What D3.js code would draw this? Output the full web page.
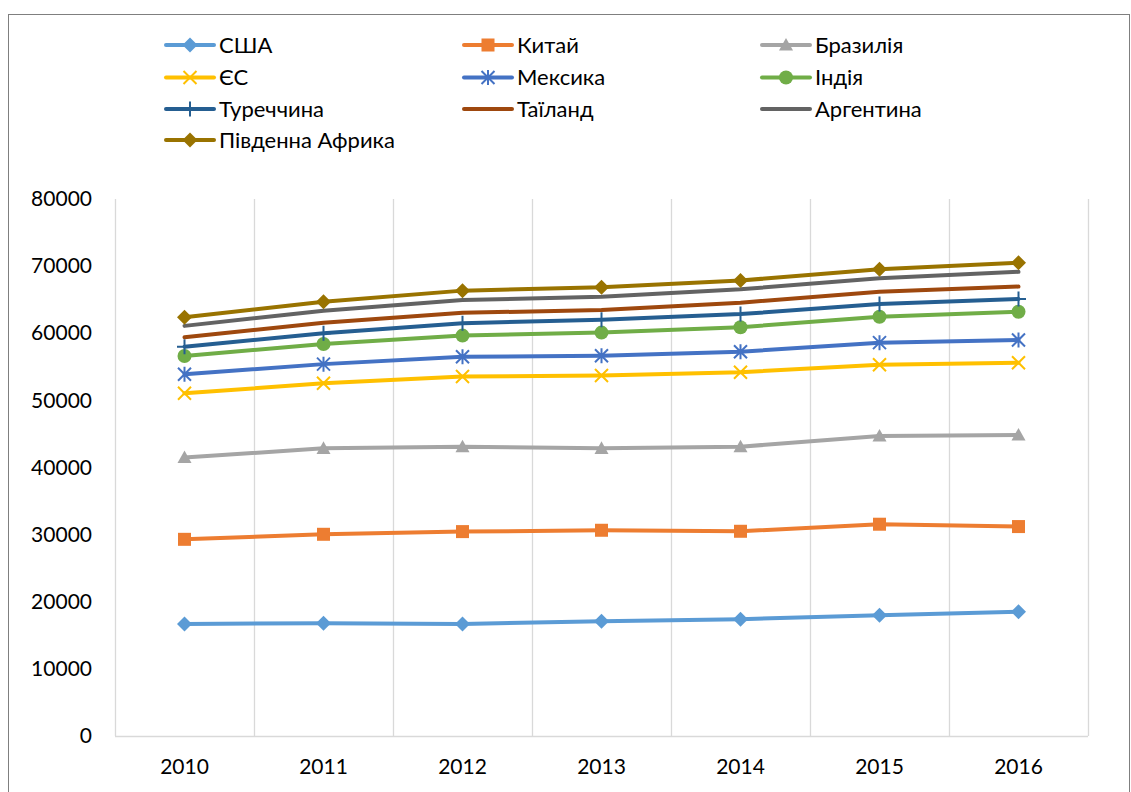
<!DOCTYPE html>
<html>
<head>
<meta charset="utf-8">
<script src="https://cdn.jsdelivr.net/npm/d3@7"></script>
<style>
  html, body { margin: 0; padding: 0; background: #fff; }
  svg text { font-family: Lato, "Open Sans", sans-serif; fill: #000; }
</style>
</head>
<body>
<svg id="chart" width="1131" height="792"></svg>
<script>
// ---- data ----
const years = ["2010", "2011", "2012", "2013", "2014", "2015", "2016"];
const yTicks = [0, 10000, 20000, 30000, 40000, 50000, 60000, 70000, 80000];
const seriesNames = ["США", "Китай", "Бразилія", "ЄС", "Мексика", "Індія", "Туреччина", "Таїланд", "Аргентина", "Південна Африка"];
const usa       = [16700, 16800, 16700, 17100, 17400, 18000, 18500];
const china     = [29300, 30050, 30450, 30650, 30500, 31550, 31200];
const brazil    = [41500, 42850, 43100, 42850, 43100, 44700, 44850];
const eu        = [51050, 52550, 53550, 53700, 54200, 55300, 55600];
const mexico    = [53900, 55400, 56500, 56650, 57250, 58600, 59000];
const india     = [56600, 58400, 59650, 60100, 60900, 62450, 63200];
const turkey    = [58000, 60000, 61500, 62000, 62850, 64350, 65100];
const thailand  = [59400, 61550, 63050, 63450, 64550, 66200, 66950];
const argentina = [61100, 63350, 64950, 65450, 66550, 68200, 69150];
const southAfrica = [62400, 64700, 66350, 66850, 67850, 69550, 70500];

const seriesValues = [usa, china, brazil, eu, mexico, india, turkey, thailand, argentina, southAfrica];
const colors  = ["#5B9BD5", "#ED7D31", "#A5A5A5", "#FFC000", "#4472C4", "#70AD47", "#255E91", "#9E480E", "#636363", "#997300"];
const markers = ["diamond", "square", "triangle", "x", "star", "circle", "plus", "none", "none", "diamond"];

// ---- layout ----
const svg = d3.select("#chart");
const plot = { left: 115, right: 1088, top: 199, bottom: 736 };

svg.append("rect")
  .attr("x", 8.5).attr("y", 14.5)
  .attr("width", 1121).attr("height", 800)
  .attr("fill", "none").attr("stroke", "#7f7f7f").attr("stroke-width", 1);

const x = d3.scaleBand().domain(years).range([plot.left, plot.right]).padding(0);
const cx = d => x(d) + x.bandwidth() / 2;
const y = d3.scaleLinear().domain([0, 80000]).range([plot.bottom, plot.top]);

// vertical gridlines at category boundaries
const bounds = years.map(d => x(d)).concat([plot.right]);
svg.append("g").selectAll("line").data(bounds).join("line")
  .attr("x1", d => d + 0.5).attr("x2", d => d + 0.5)
  .attr("y1", plot.top).attr("y2", plot.bottom)
  .attr("stroke", "#d9d9d9").attr("stroke-width", 1.3);

// baseline
svg.append("line")
  .attr("x1", plot.left).attr("x2", plot.right)
  .attr("y1", plot.bottom + 0.5).attr("y2", plot.bottom + 0.5)
  .attr("stroke", "#d9d9d9").attr("stroke-width", 1.3);

// y axis
const yAxis = svg.append("g")
  .attr("transform", `translate(${plot.left},0)`)
  .call(d3.axisLeft(y).tickValues(yTicks).tickSize(0).tickPadding(23).tickFormat(d3.format("d")));
yAxis.select(".domain").remove();
yAxis.selectAll("text").style("font-family", "Lato, sans-serif").style("font-size", "21px").attr("fill", "#000");

// x axis
const xAxis = svg.append("g")
  .attr("transform", `translate(0,${plot.bottom})`)
  .call(d3.axisBottom(x).tickSize(0).tickPadding(23));
xAxis.select(".domain").remove();
xAxis.selectAll("text").style("font-family", "Lato, sans-serif").style("font-size", "21px").attr("fill", "#000");

// marker drawing
function drawMarker(g, type, color, px, py) {
  if (type === "diamond") {
    const s = 7.5;
    g.append("path").attr("d", `M${px},${py - s}L${px + s},${py}L${px},${py + s}L${px - s},${py}Z`).attr("fill", color);
  } else if (type === "square") {
    const s = 6.5;
    g.append("rect").attr("x", px - s).attr("y", py - s).attr("width", 2 * s).attr("height", 2 * s).attr("fill", color);
  } else if (type === "triangle") {
    const s = 7;
    g.append("path").attr("d", `M${px},${py - s}L${px + s},${py + s * 0.8}L${px - s},${py + s * 0.8}Z`).attr("fill", color);
  } else if (type === "circle") {
    g.append("circle").attr("cx", px).attr("cy", py).attr("r", 7).attr("fill", color);
  } else if (type === "x") {
    const s = 6.5;
    g.append("path").attr("d", `M${px - s},${py - s}L${px + s},${py + s}M${px - s},${py + s}L${px + s},${py - s}`)
      .attr("stroke", color).attr("stroke-width", 2).attr("fill", "none");
  } else if (type === "star") {
    const s = 6.5;
    g.append("path").attr("d", `M${px - s},${py - s}L${px + s},${py + s}M${px - s},${py + s}L${px + s},${py - s}M${px},${py - s - 1}L${px},${py + s + 1}`)
      .attr("stroke", color).attr("stroke-width", 2).attr("fill", "none");
  } else if (type === "plus") {
    const s = 7.5;
    g.append("path").attr("d", `M${px - s},${py}L${px + s},${py}M${px},${py - s}L${px},${py + s}`)
      .attr("stroke", color).attr("stroke-width", 2).attr("fill", "none");
  }
}

// series
const line = d3.line().x((d, i) => cx(years[i])).y(d => y(d));
seriesValues.forEach((vals, si) => {
  const g = svg.append("g");
  g.append("path").datum(vals).attr("d", line)
    .attr("fill", "none").attr("stroke", colors[si]).attr("stroke-width", 4)
    .attr("stroke-linejoin", "round").attr("stroke-linecap", "round");
  vals.forEach((v, i) => drawMarker(g, markers[si], colors[si], cx(years[i]), y(v)));
});

// legend
const legendX = [166, 464, 762];
const legendY = [45, 77.5, 109, 140];
seriesNames.forEach((name, i) => {
  const col = i % 3, row = Math.floor(i / 3);
  const lx = legendX[col], ly = legendY[row];
  const g = svg.append("g");
  g.append("line").attr("x1", lx).attr("x2", lx + 48).attr("y1", ly).attr("y2", ly)
    .attr("stroke", colors[i]).attr("stroke-width", 4).attr("stroke-linecap", "round");
  drawMarker(g, markers[i], colors[i], lx + 24, ly);
  g.append("text").attr("x", lx + 53).attr("y", ly).attr("dy", "0.35em")
    .style("font-size", "22px").text(name);
});
</script>
</body>
</html>
